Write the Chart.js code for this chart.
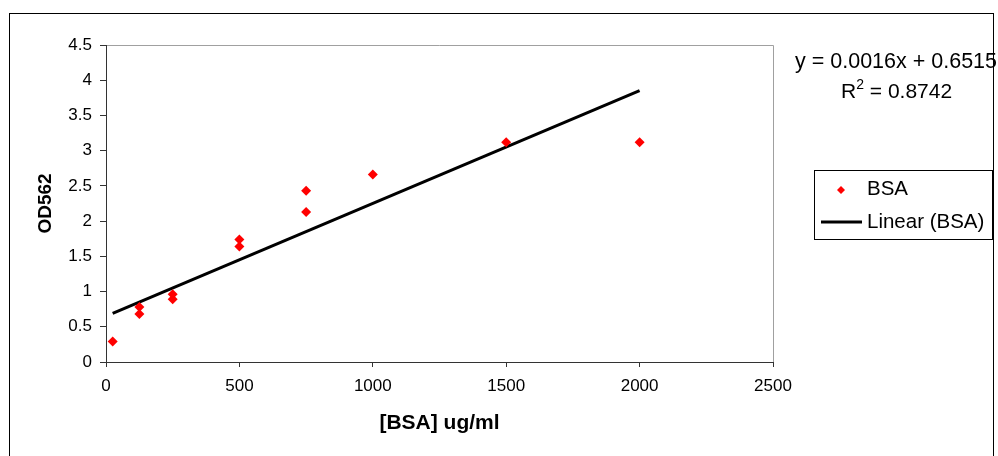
<!DOCTYPE html>
<html>
<head>
<meta charset="utf-8">
<script src="https://cdn.jsdelivr.net/npm/chart.js@4.4.0/dist/chart.umd.min.js"></script>
<style>
  html, body { margin: 0; padding: 0; background: #fff; }
  #wrap { width: 998px; height: 456px; position: relative; }
</style>
</head>
<body>
<div id="wrap"><canvas id="c" width="998" height="456"></canvas></div>
<script>
// ---- data ----
const bsaConc = [25, 125, 125, 250, 250, 500, 500, 750, 750, 1000, 1500, 2000];
const od562   = [0.29, 0.78, 0.68, 0.96, 0.89, 1.74, 1.64, 2.43, 2.13, 2.66, 3.12, 3.12];
const trendSlope = 0.0016;
const trendIntercept = 0.6515;
const trendRange = [25, 2000];
const equationText = 'y = 0.0016x + 0.6515';
const r2Value = '0.8742';
const seriesLabel = 'BSA';
const trendLabel = 'Linear (BSA)';
const xTitle = '[BSA] ug/ml';
const yTitle = 'OD562';
const xTicks = [0, 500, 1000, 1500, 2000, 2500];
const yTicks = [0, 0.5, 1, 1.5, 2, 2.5, 3, 3.5, 4, 4.5];

const FONT = '"Liberation Sans", Arial, sans-serif';

const scatterPts = bsaConc.map((x, i) => ({ x: x, y: od562[i] }));
const trendPts = trendRange.map(x => ({ x: x, y: trendSlope * x + trendIntercept }));

const decor = {
  id: 'decor',
  beforeDraw(chart) {
    const ctx = chart.ctx;
    ctx.save();
    ctx.fillStyle = '#fff';
    ctx.fillRect(0, 0, chart.width, chart.height);
    // outer chart frame
    ctx.strokeStyle = '#000';
    ctx.lineWidth = 1;
    ctx.strokeRect(9.5, 13.5, 984, 470);
    // plot area frame (grey top/right)
    const a = chart.chartArea;
    ctx.strokeStyle = '#a0a0a0';
    ctx.beginPath();
    ctx.moveTo(a.left, Math.round(a.top) + 0.5);
    ctx.lineTo(Math.round(a.right) + 0.5, Math.round(a.top) + 0.5);
    ctx.lineTo(Math.round(a.right) + 0.5, a.bottom);
    ctx.stroke();
    ctx.restore();
  },
  afterDraw(chart) {
    const ctx = chart.ctx;
    ctx.save();
    ctx.fillStyle = '#000';
    ctx.textBaseline = 'middle';
    // equation
    ctx.font = '21.5px ' + FONT;
    ctx.textAlign = 'left';
    ctx.fillText(equationText, 795, 62);
    // R^2
    let x = 841;
    ctx.font = '21px ' + FONT;
    ctx.fillText('R', x, 92);
    x += ctx.measureText('R').width;
    ctx.font = '14px ' + FONT;
    ctx.fillText('2', x, 85);
    x += ctx.measureText('2').width;
    ctx.font = '21px ' + FONT;
    ctx.fillText(' = ' + r2Value, x, 92);

    // legend box
    const ds0 = chart.data.datasets[0];
    const ds1 = chart.data.datasets[1];
    ctx.strokeStyle = '#000';
    ctx.lineWidth = 1;
    ctx.strokeRect(814.5, 170.5, 178, 69);
    // marker
    ctx.fillStyle = ds0.backgroundColor;
    ctx.beginPath();
    ctx.moveTo(841, 186); ctx.lineTo(845, 190); ctx.lineTo(841, 194); ctx.lineTo(837, 190);
    ctx.closePath(); ctx.fill();
    ctx.fillStyle = '#000';
    ctx.font = '20.5px ' + FONT;
    ctx.fillText(ds0.label, 867, 189);
    // line
    ctx.strokeStyle = ds1.borderColor;
    ctx.lineWidth = 3;
    ctx.beginPath();
    ctx.moveTo(821, 222); ctx.lineTo(862, 222);
    ctx.stroke();
    ctx.fillText(ds1.label, 867, 222);
    ctx.restore();
  }
};

new Chart(document.getElementById('c'), {
  type: 'scatter',
  data: {
    datasets: [
      {
        label: seriesLabel,
        data: scatterPts,
        pointStyle: 'rectRot',
        pointRadius: 5,
        pointHoverRadius: 5,
        backgroundColor: '#ff0000',
        borderColor: '#ff0000',
        borderWidth: 0,
        order: 1
      },
      {
        type: 'line',
        label: trendLabel,
        data: trendPts,
        borderColor: '#000',
        borderWidth: 3,
        pointRadius: 0,
        fill: false,
        order: 2
      }
    ]
  },
  options: {
    responsive: false,
    animation: false,
    events: [],
    layout: { padding: { top: 45, right: 225, left: 0, bottom: 0 } },
    plugins: { legend: { display: false }, tooltip: { enabled: false } },
    scales: {
      x: {
        type: 'linear',
        min: 0, max: 2500,
        afterBuildTicks: s => { s.ticks = xTicks.map(v => ({ value: v })); },
        afterFit: s => { s.height = 94; },
        grid: { display: true, drawOnChartArea: false, drawTicks: true, tickLength: 5, tickColor: '#333' },
        border: { display: true, color: '#333', width: 1 },
        ticks: { color: '#000', font: { family: FONT, size: 17 }, padding: 9, maxRotation: 0, callback: v => String(v) },
        title: { display: true, text: xTitle, color: '#000', font: { family: FONT, size: 21, weight: 'bold' }, padding: { top: 0, bottom: 20 } }
      },
      y: {
        type: 'linear',
        min: 0, max: 4.5,
        afterBuildTicks: s => { s.ticks = yTicks.map(v => ({ value: v })); },
        afterFit: s => { s.width = 106; },
        grid: { display: true, drawOnChartArea: false, drawTicks: true, tickLength: 6, tickColor: '#333' },
        border: { display: true, color: '#333', width: 1 },
        ticks: { color: '#000', font: { family: FONT, size: 17 }, padding: 8, callback: v => String(v) },
        title: { display: true, text: yTitle, color: '#000', font: { family: FONT, size: 19, weight: 'bold' }, padding: { top: 34, bottom: 0 } }
      }
    }
  },
  plugins: [decor]
});
</script>
</body>
</html>
